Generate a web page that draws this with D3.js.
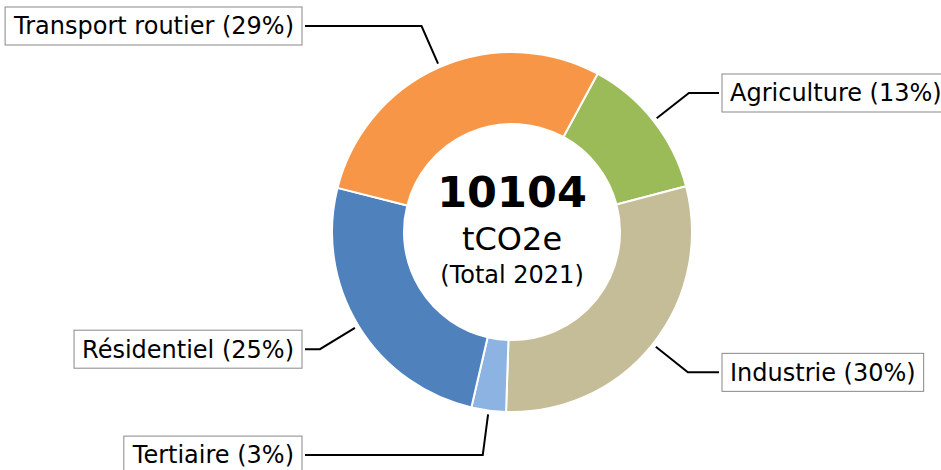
<!DOCTYPE html>
<html>
<head>
<meta charset="utf-8">
<script src="https://cdn.jsdelivr.net/npm/d3@7"></script>
<style>
  body { margin: 0; background: #fff; }
  svg { display: block; font-family: "DejaVu Sans", sans-serif; }
</style>
</head>
<body>
<div id="container"></div>
<script>
// data
const sectors = ["Agriculture", "Industrie", "Tertiaire", "Résidentiel", "Transport routier"];
const emissions = [1316, 2992, 313, 2558, 2925];
const colors = ["#9bbb59", "#c4bd97", "#8db3e2", "#4f81bd", "#f79646"];
const totalYear = "2021";
const unit = "tCO2e";

const width = 941,
  height = 470;

const cx = 512, cy = 232;
const outerR = 180, innerR = outerR * 0.6;
const startDeg = 28.4;

const total = d3.sum(emissions);
const data = sectors.map((s, i) => ({ name: s, value: emissions[i], color: colors[i] }));

let svg = d3.select("#container")
  .append("svg")
  .attr("width", width)
  .attr("height", height);

const pie = d3.pie()
  .sort(null)
  .value(d => d.value)
  .startAngle(startDeg * Math.PI / 180)
  .endAngle(startDeg * Math.PI / 180 + 2 * Math.PI);

const arc = d3.arc()
  .innerRadius(innerR)
  .outerRadius(outerR);

const arcs = pie(data);

const g = svg.append("g")
  .attr("transform", `translate(${cx},${cy})`);

g.selectAll("path.slice")
  .data(arcs)
  .join("path")
  .attr("class", "slice")
  .attr("d", arc)
  .attr("fill", d => d.data.color)
  .attr("stroke", "#fff")
  .attr("stroke-width", 2);

// centre text
g.append("text")
  .attr("text-anchor", "middle")
  .attr("y", -25)
  .attr("font-size", 43)
  .attr("font-weight", "bold")
  .text(total);

g.append("text")
  .attr("text-anchor", "middle")
  .attr("y", 18)
  .attr("font-size", 32)
  .text(unit);

g.append("text")
  .attr("text-anchor", "middle")
  .attr("y", 51)
  .attr("font-size", 24)
  .text(`(Total ${totalYear})`);

// labels with elbow lines
const labelR = outerR * 1.25;
const fmt = d => Math.round(d.value / total * 100);

arcs.forEach(d => {
  const mid = (d.startAngle + d.endAngle) / 2;
  const sx = Math.sin(mid), sy = -Math.cos(mid);
  const right = sx > 0;
  const p0 = [sx * (outerR + 4), sy * (outerR + 4)];
  const elbow = [sx * labelR, sy * labelR];
  const boxEdge = right ? 207 : -207;
  const ly = elbow[1];

  g.append("path")
    .attr("d", d3.line()([p0, elbow, [boxEdge, ly]]))
    .attr("fill", "none")
    .attr("stroke", "#000")
    .attr("stroke-width", 2);

  const t = g.append("text")
    .attr("x", right ? 218 : -218)
    .attr("y", ly)
    .attr("dy", "0.35em")
    .attr("text-anchor", right ? "start" : "end")
    .attr("font-size", 24)
    .text(`${d.data.name} (${fmt(d.data)}%)`);

  const bb = t.node().getBBox();
  g.insert("rect", "text")
    .attr("x", bb.x - 8)
    .attr("y", ly - 19)
    .attr("width", bb.width + 16)
    .attr("height", 38)
    .attr("fill", "#fff")
    .attr("stroke", "#888")
    .attr("stroke-width", 1);
});
</script>
</body>
</html>
